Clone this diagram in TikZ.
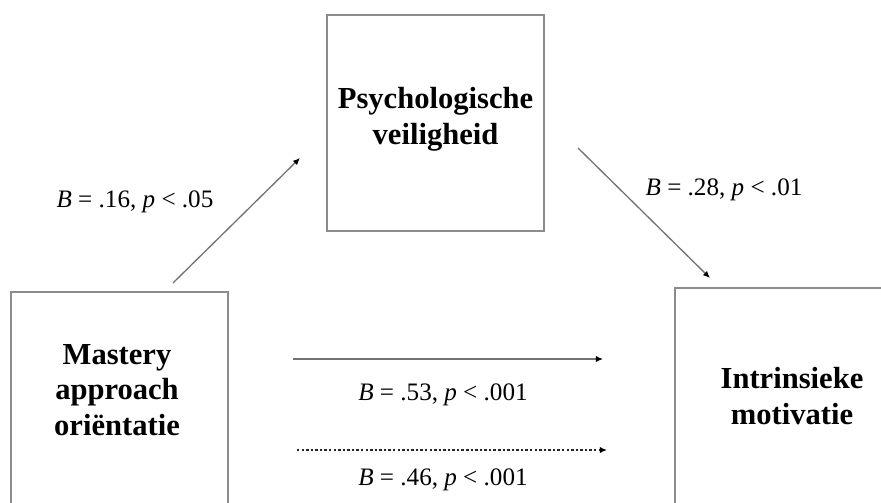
\documentclass[tikz,border=0pt]{standalone}
\usepackage{fontspec}
\setmainfont{Liberation Serif}
\usepackage{tikz}
\usetikzlibrary{arrows.meta}
\tikzset{
  varbox/.style    = {draw=black!45, line width=0.7pt, fill=white, inner sep=0pt},
  vartxt/.style    = {font=\fontsize{17.4}{20.3}\selectfont\bfseries, align=center, inner sep=0pt},
  coef/.style      = {font=\fontsize{14.3}{16}\selectfont, inner sep=0pt},
  effect/.style    = {-{Latex[length=4pt,width=3.5pt,color=black]}, draw=black!55, line width=0.75pt},
  effectdot/.style = {effect, draw=black!85, dash pattern=on 1.4pt off 1.2pt},
}

\begin{document}
\begin{tikzpicture}[x=1cm,y=1cm]
  \useasboundingbox (0,0) rectangle (17.62,10.04);
  \clip (0,0) rectangle (17.62,10.04);

  % the three variables
  \node[varbox, minimum width=4.34cm, minimum height=4.32cm] (veilig) at (8.71,7.58) {};
  \node[varbox, minimum width=4.34cm, minimum height=4.32cm] (mastery) at (2.39,2.04) {};
  \node[varbox, minimum width=4.68cm, minimum height=4.32cm] (motivatie) at (15.84,2.12) {};
  \node[vartxt] (veiligtxt) at (8.71,7.66) {Psychologische\\veiligheid};
  \node[vartxt] (masterytxt) at (2.34,2.24) {Mastery\\approach\\oriëntatie};
  \node[vartxt] (motivatietxt) at (15.84,2.12) {Intrinsieke\\motivatie};

  % arrow ends
  \coordinate (aS) at (3.46,4.38);   \coordinate (aE) at (6.00,6.88);
  \coordinate (bS) at (11.56,7.08);  \coordinate (bE) at (14.20,4.48);
  \coordinate (cS) at (5.86,2.86);   \coordinate (cE) at (12.06,2.86);
  \coordinate (dS) at (5.94,1.04);   \coordinate (dE) at (12.14,1.04);

  \draw[effect] (aS) -- (aE);
  \draw[effect] (bS) -- (bE);
  \draw[effect] (cS) -- (cE);
  \draw[effectdot] (dS) -- (dE);

  % coefficients
  \node[coef] (coefA) at (2.70,6.01) {\textit{B} = .16, \textit{p} < .05};
  \node[coef] (coefB) at (14.48,6.24) {\textit{B} = .28, \textit{p} < .01};
  \node[coef] (coefC) at (8.86,2.14) {\textit{B} = .53, \textit{p} < .001};
  \node[coef] (coefD) at (8.86,0.44) {\textit{B} = .46, \textit{p} < .001};
\end{tikzpicture}
\end{document}
